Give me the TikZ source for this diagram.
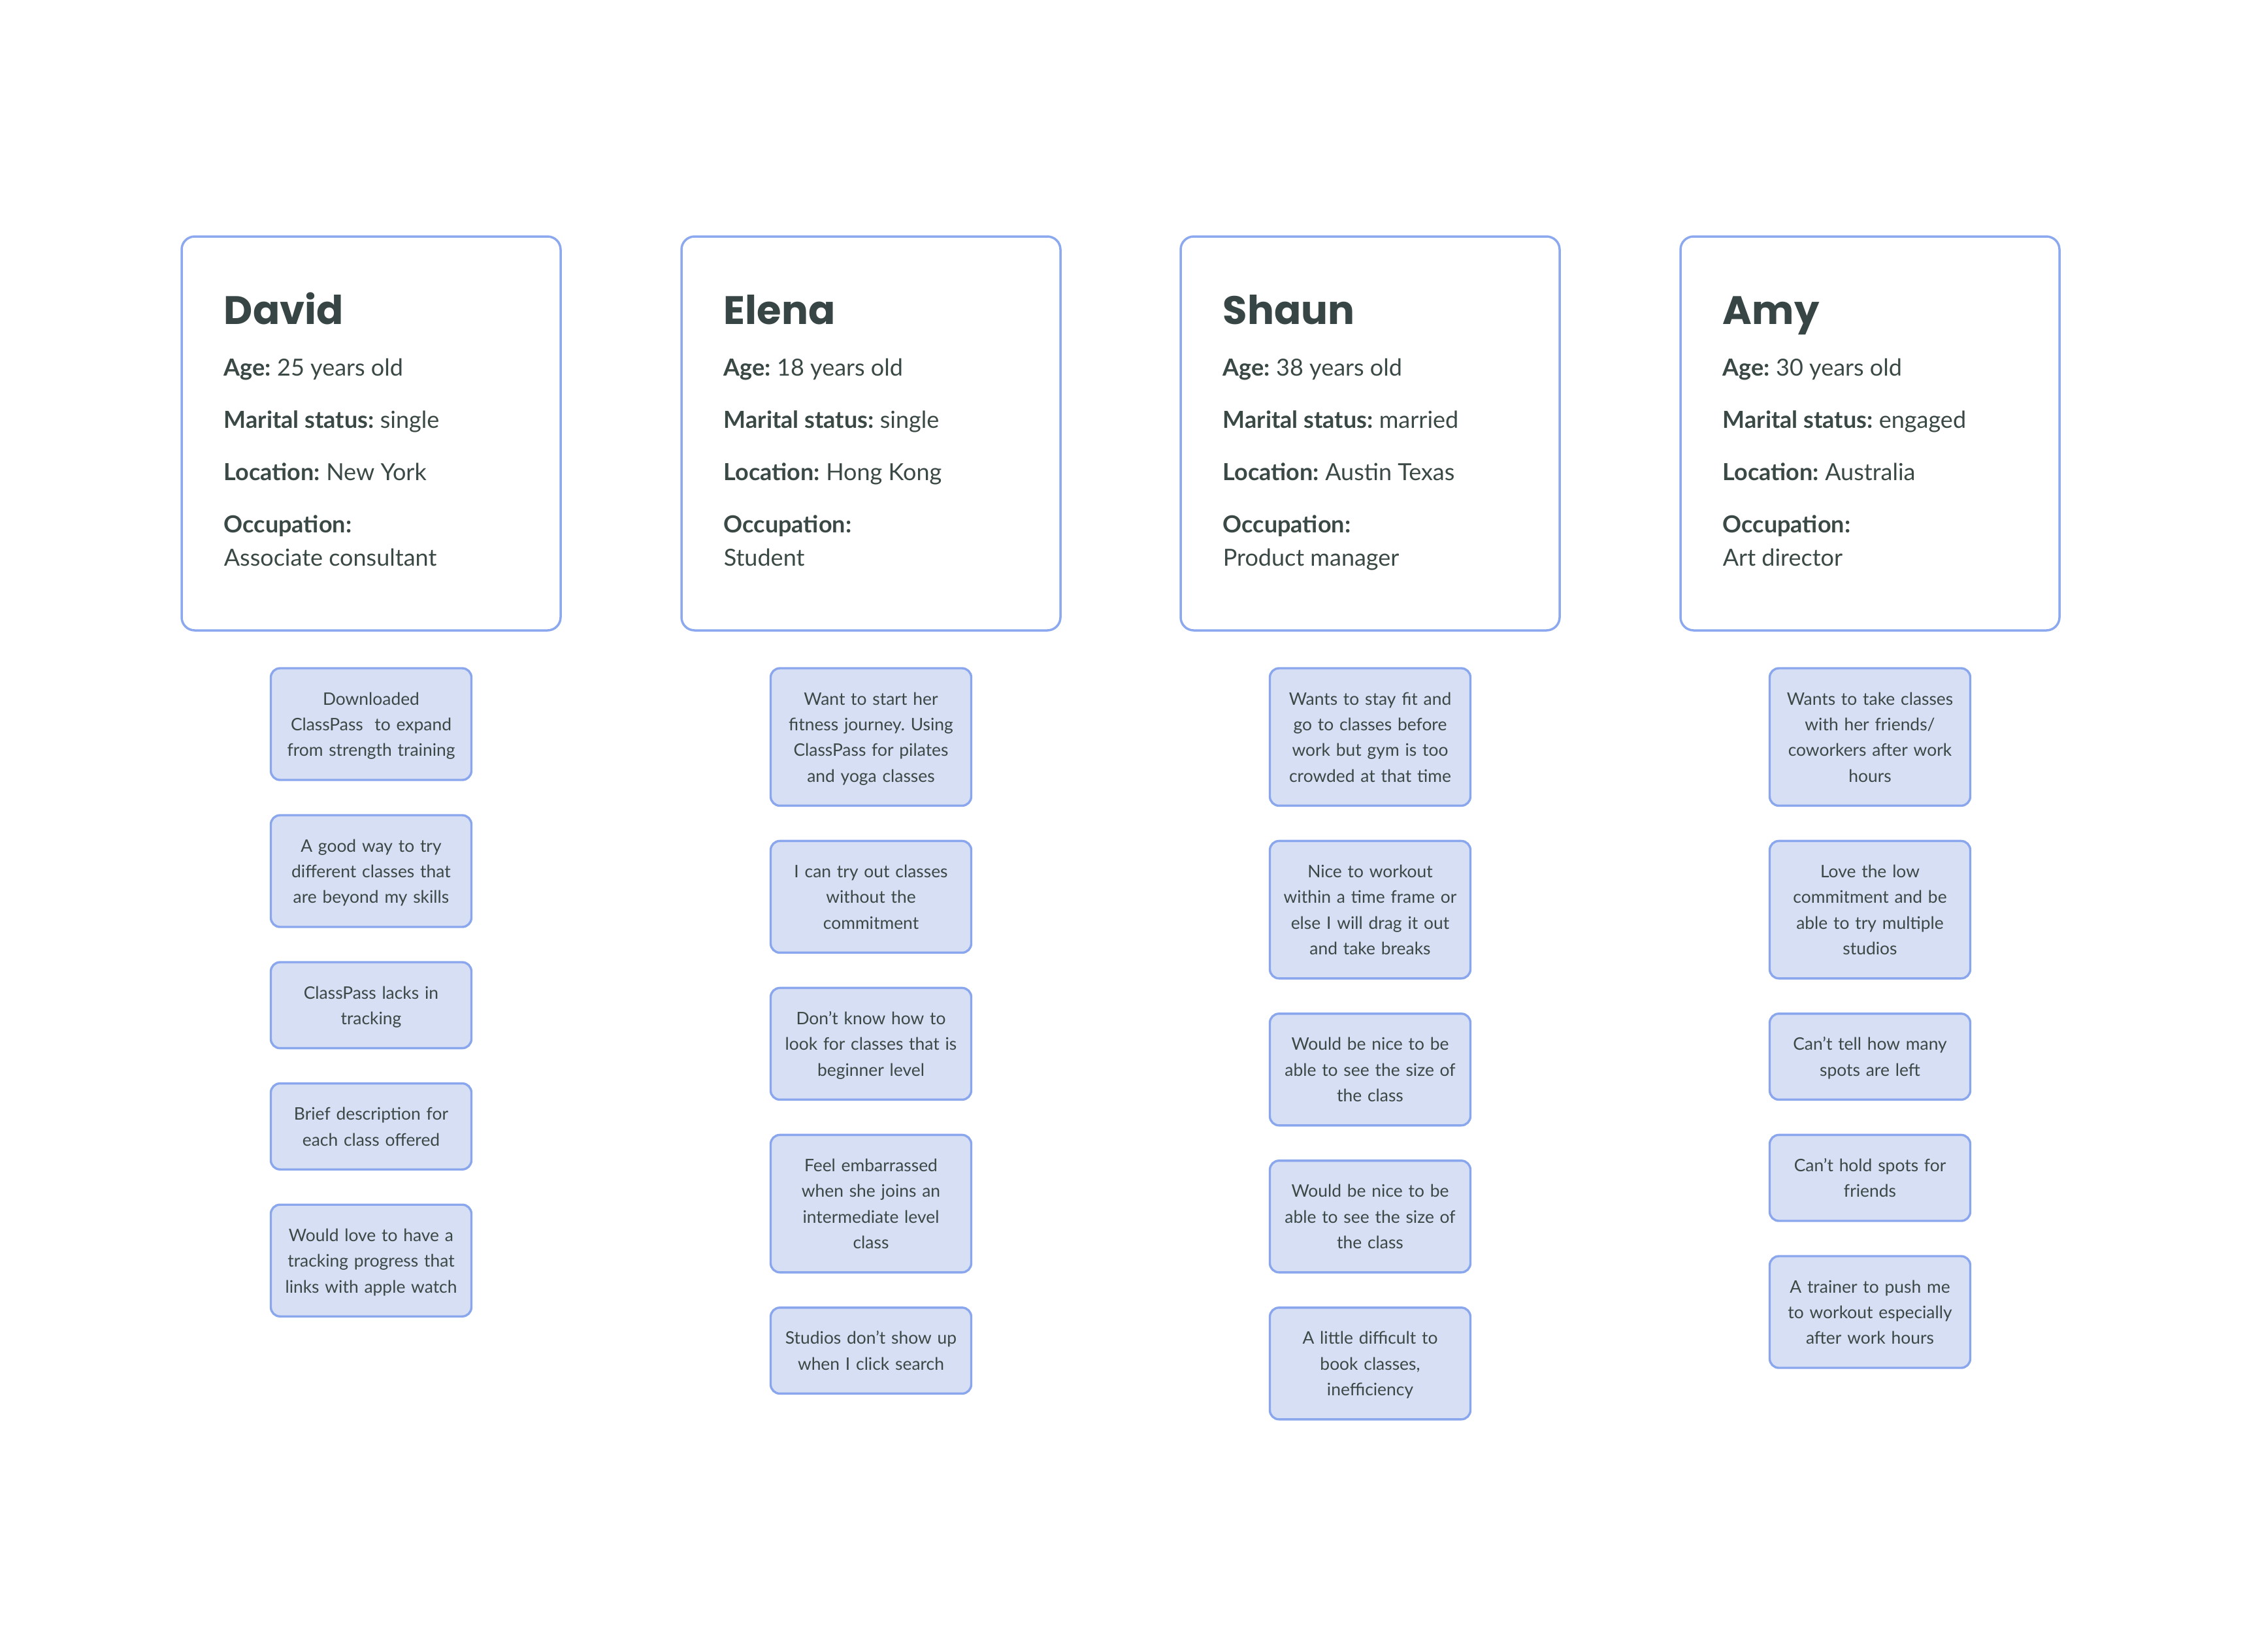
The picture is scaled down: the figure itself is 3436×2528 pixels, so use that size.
\documentclass[tikz,border=0pt]{standalone}
\usepackage{fontspec}
\setmainfont{Lato}
\newfontfamily\headfont{Poppins}
\usetikzlibrary{positioning}
\frenchspacing
\definecolor{txt}{HTML}{3A4846}
\definecolor{headc}{HTML}{374645}
\definecolor{cardline}{HTML}{8CA9F0}
\definecolor{notefill}{HTML}{D6DFF4}
\definecolor{noteline}{HTML}{8AA7EE}
\tikzset{
  card/.style={draw=cardline, line width=0.875pt, rounded corners=5pt, fill=white,
    minimum width=145pt, minimum height=150.75pt, outer sep=0pt, inner sep=0pt},
  pname/.style={anchor=base west, inner sep=0pt, text=headc,
    font={\headfont\bfseries\fontsize{15.2}{18}\selectfont}},
  pline/.style={anchor=base west, inner sep=0pt, text=txt,
    font={\fontsize{9}{12}\selectfont}},
  note/.style={draw=noteline, fill=notefill, line width=0.85pt, rounded corners=3.5pt,
    minimum width=76.75pt, text width=74pt, inner xsep=1pt, inner ysep=0pt,
    outer sep=0pt, align=center, text=txt, font={\fontsize{6.6}{9.85}\selectfont},
    text height=6.5pt},
  ntwo/.style={note, minimum height=32.9pt, text depth=11.35pt},
  nthree/.style={note, minimum height=42.75pt, text depth=21.2pt},
  nfour/.style={note, minimum height=52.6pt, text depth=31.05pt},
  gapbelow/.style={below=13.5pt of #1}
}
\begin{document}
\begin{tikzpicture}[x=0.25pt,y=-0.25pt]
\useasboundingbox[fill=white] (0,0) rectangle (3436,2528);

% ---------- cards ----------
\foreach \c/\id/\nm/\age/\mar/\loc/\occ in {
  568/D/David/25 years old/single/New York/Associate consultant,
  1333/E/Elena/18 years old/single/Hong Kong/Student,
  2097/S/Shaun/38 years old/married/Austin Texas/Product manager,
  2862/A/Amy/30 years old/engaged/Australia/Art director}{
  \node[card] (card\id) at (\c,663.5) {};
  \node[pname] (name\id) at (\c-226,496) {\nm};
  \node[pline] (age\id) at (\c-226,575) {\textbf{Age:} \age};
  \node[pline] (mar\id) at (\c-226,655) {\textbf{Marital status:} \mar};
  \node[pline] (loc\id) at (\c-226,735) {\textbf{Location:} \loc};
  \node[pline] (occ\id) at (\c-226,815) {\textbf{Occupation:}};
  \node[pline] (job\id) at (\c-226,866) {\occ};
}

% ---------- David ----------
\node[nthree, anchor=north] (d1) at (568,1023) {Downloaded\\ClassPass\ \ to expand\\from strength training};
\node[nthree, gapbelow=d1] (d2) {A good way to try\\different classes that\\are beyond my skills};
\node[ntwo, gapbelow=d2] (d3) {ClassPass lacks in\\tracking};
\node[ntwo, gapbelow=d3] (d4) {Brief description for\\each class offered};
\node[nthree, gapbelow=d4] (d5) {Would love to have a\\tracking progress that\\links with apple watch};

% ---------- Elena ----------
\node[nfour, anchor=north] (e1) at (1333,1023) {Want to start her\\fitness journey. Using\\ClassPass for pilates\\and yoga classes};
\node[nthree, gapbelow=e1] (e2) {I can try out classes\\without the\\commitment};
\node[nthree, gapbelow=e2] (e3) {Don’t know how to\\look for classes that is\\beginner level};
\node[nfour, gapbelow=e3] (e4) {Feel embarrassed\\when she joins an\\intermediate level\\class};
\node[ntwo, gapbelow=e4] (e5) {Studios don’t show up\\when I click search};

% ---------- Shaun ----------
\node[nfour, anchor=north] (s1) at (2097,1023) {Wants to stay fit and\\go to classes before\\work but gym is too\\crowded at that time};
\node[nfour, gapbelow=s1] (s2) {Nice to workout\\within a time frame or\\else I will drag it out\\and take breaks};
\node[nthree, gapbelow=s2] (s3) {Would be nice to be\\able to see the size of\\the class};
\node[nthree, gapbelow=s3] (s4) {Would be nice to be\\able to see the size of\\the class};
\node[nthree, gapbelow=s4] (s5) {A little difficult to\\book classes,\\inefficiency};

% ---------- Amy ----------
\node[nfour, anchor=north] (a1) at (2862,1023) {Wants to take classes\\with her friends/\\coworkers after work\\hours};
\node[nfour, gapbelow=a1] (a2) {Love the low\\commitment and be\\able to try multiple\\studios};
\node[ntwo, gapbelow=a2] (a3) {Can’t tell how many\\spots are left};
\node[ntwo, gapbelow=a3] (a4) {Can’t hold spots for\\friends};
\node[nthree, gapbelow=a4] (a5) {A trainer to push me\\to workout especially\\after work hours};
\end{tikzpicture}
\end{document}
